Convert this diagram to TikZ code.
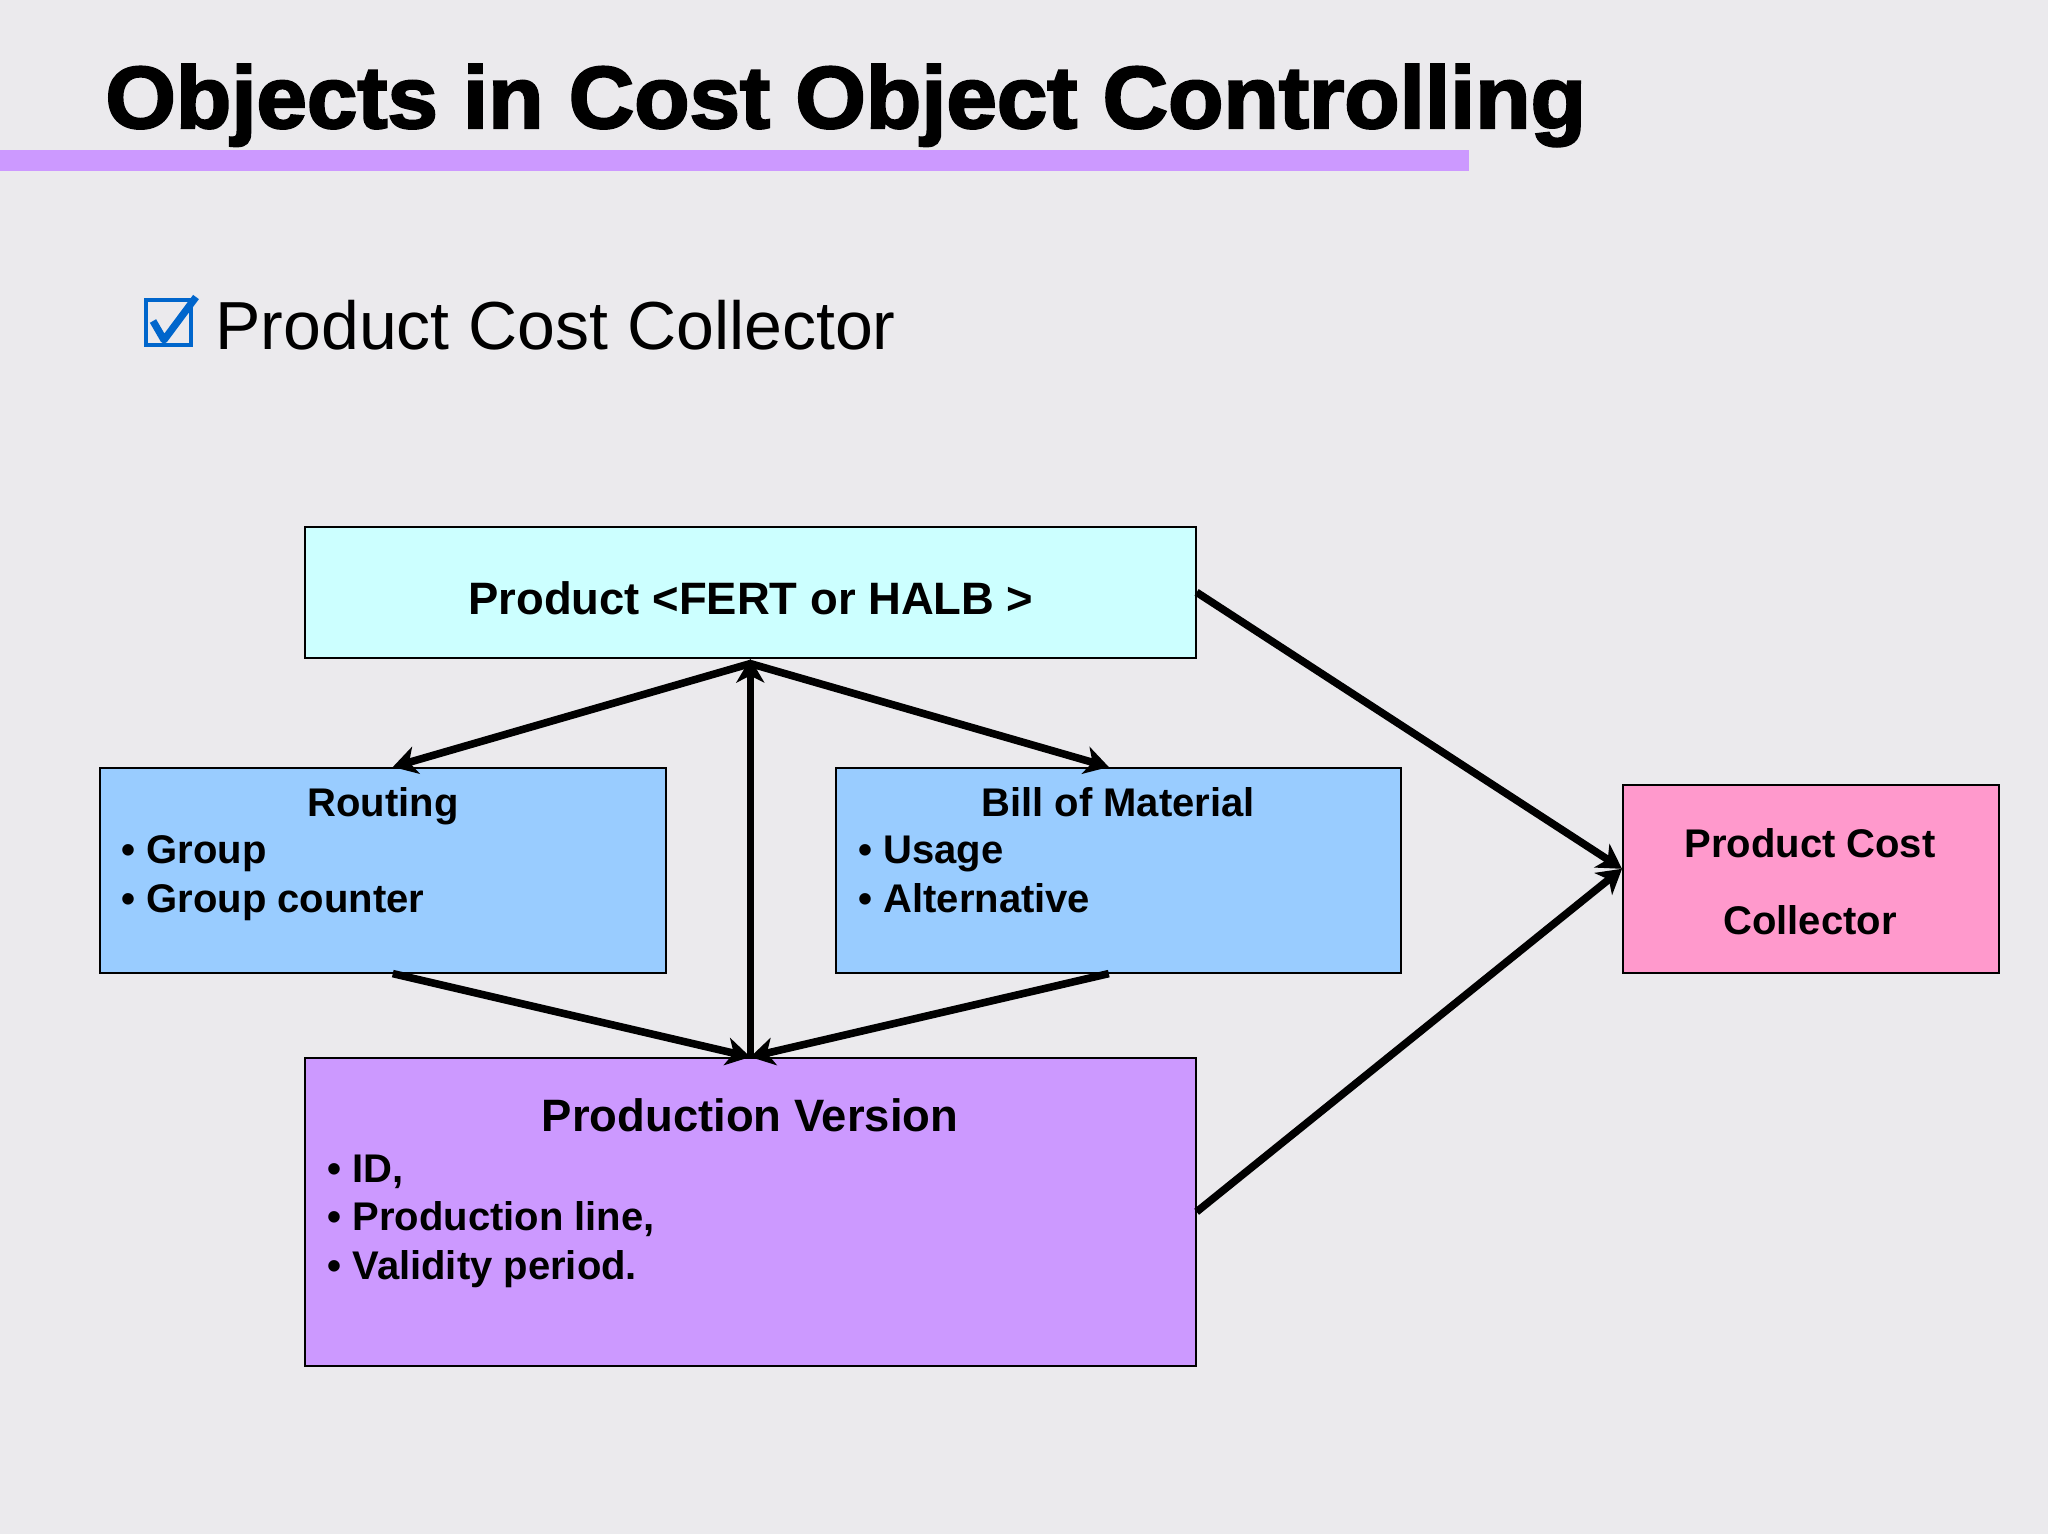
\documentclass[tikz,border=0pt]{standalone}
\usepackage{fontspec}
\setmainfont{Liberation Sans}
\newfontfamily\heavyfont[FakeBold=2.5]{Liberation Sans Bold}
\usetikzlibrary{arrows.meta, positioning}

\definecolor{bgGrey}{HTML}{EBEAED}
\definecolor{barLilac}{HTML}{CC99FF}
\definecolor{prodCyan}{HTML}{CCFFFF}
\definecolor{stepBlue}{HTML}{99CCFF}
\definecolor{pvLilac}{HTML}{CC99FF}
\definecolor{pccPink}{HTML}{FF99CC}
\definecolor{tickBlue}{HTML}{0066CC}

\begin{document}
\begin{tikzpicture}[x=0.5pt, y=-0.5pt,
		% Style for the boxes
		box/.style={draw=black, line width=0.8pt, anchor=north west, inner sep=0pt},
		% Text inside the boxes
		boxTitle/.style={font=\fontsize{20}{24}\selectfont\bfseries, anchor=base, inner sep=0pt},
		bigTitle/.style={font=\fontsize{22.7}{27}\selectfont\bfseries, anchor=base, inner sep=0pt},
		bulletItem/.style={font=\fontsize{20}{24}\selectfont\bfseries, anchor=base west, inner sep=0pt},
		% Connectors
		link/.style={line width=3.8pt, -{Stealth[length=12pt, width=14pt, inset=3.5pt]}},
		% Heading
		mainTitle/.style={font=\heavyfont\fontsize{44}{50}\selectfont, anchor=base west, inner sep=0pt}
		]
		
		% background and heading
		\fill[bgGrey] (0,0) rectangle (2048,1534);
		\node[mainTitle, xscale=1.03] (title) at (105,128) {Objects in Cost Object Controlling};
		\fill[barLilac] (0,150) rectangle (1469,171);
		
		% check box and subtitle
		\draw[tickBlue, line width=2.4pt] (146,300) rectangle (191,345);
		\draw[tickBlue, line width=3.6pt, line join=round] (153,321) -- (164,340) -- (196,297);
		\node[font=\fontsize{34}{40}\selectfont, anchor=base west, inner sep=0pt] (sub) at (215,350) {Product Cost Collector};
		
		% boxes
		\node[box, fill=prodCyan, minimum width=445.5pt, minimum height=65.5pt] (prod) at (304,526) {};
		\node[box, fill=stepBlue, minimum width=283pt, minimum height=102.5pt] (routing) at (99,767) {};
		\node[box, fill=stepBlue, minimum width=282.5pt, minimum height=102.5pt] (bom) at (835,767) {};
		\node[box, fill=pvLilac, minimum width=445.5pt, minimum height=154pt] (pv) at (304,1057) {};
		\node[box, fill=pccPink, minimum width=188pt, minimum height=94pt] (pcc) at (1622,784) {};
		
		% box texts
		\node[bigTitle] (prodLabel) at (751,614) {Product <FERT or HALB >};
		
		\node[boxTitle] (routingTitle) at (383,816) {Routing};
		\node[bulletItem] (routingA) at (121,863) {• Group};
		\node[bulletItem] (routingB) at (121,912) {• Group counter};
		
		\node[boxTitle] (bomTitle) at (1118,816) {Bill of Material};
		\node[bulletItem] (bomA) at (858,863) {• Usage};
		\node[bulletItem] (bomB) at (858,912) {• Alternative};
		
		\node[bigTitle] (pvTitle) at (750,1131) {Production Version};
		\node[bulletItem] (pvA) at (327,1182) {• ID,};
		\node[bulletItem] (pvB) at (327,1230) {• Production line,};
		\node[bulletItem] (pvC) at (327,1279) {• Validity period.};
		
		\node[boxTitle] (pccA) at (1810,857) {Product Cost};
		\node[boxTitle] (pccB) at (1810,934) {Collector};
		
		% connectors
		\draw[link] ([yshift=-2.5pt]prod.south) -- ([xshift=5pt]routing.north);
		\draw[link] ([yshift=-2.5pt]prod.south) -- ([xshift=-4.75pt]bom.north);
		\draw[link] (pv.north) -- (prod.south);
		\draw[link] ([xshift=5pt]routing.south) -- (pv.north);
		\draw[link] ([xshift=-4.75pt]bom.south) -- (pv.north);
		\draw[link] (prod.east) -- ([yshift=5pt]pcc.west);
		\draw[link] (pv.east) -- ([yshift=5pt]pcc.west);
	\end{tikzpicture}
\end{document}
